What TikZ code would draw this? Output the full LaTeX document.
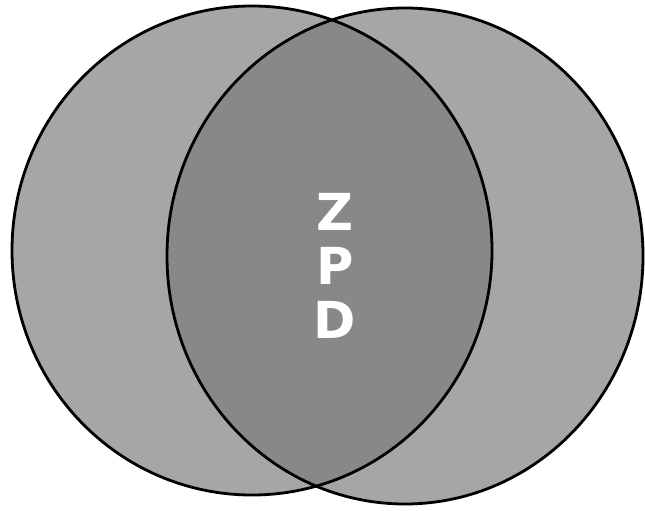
\documentclass[tikz,border=0pt]{standalone}
\usepackage{fontspec}
\setmainfont{DejaVu Sans}
\definecolor{outergray}{RGB}{166,166,166}
\definecolor{lensgray}{RGB}{136,136,136}
\begin{document}
\begin{tikzpicture}[x=1pt,y=-1pt]
	\useasboundingbox (0,0) rectangle (645,511);
	\fill[outergray] (252,250.5) ellipse[x radius=240, y radius=244.5];
	\fill[outergray] (405,256) ellipse[x radius=238, y radius=248];
	\begin{scope}
		\clip (252,250.5) ellipse[x radius=240, y radius=244.5];
		\fill[lensgray] (405,256) ellipse[x radius=238, y radius=248];
	\end{scope}
	\draw[line width=2.8pt] (252,250.5) ellipse[x radius=240, y radius=244.5];
	\draw[line width=2.8pt] (405,256) ellipse[x radius=238, y radius=248];
	\node[text=white, font=\fontsize{51}{54}\selectfont\bfseries, align=center] (zpd) at (335,266) {Z\\P\\D};
\end{tikzpicture}
\end{document}
